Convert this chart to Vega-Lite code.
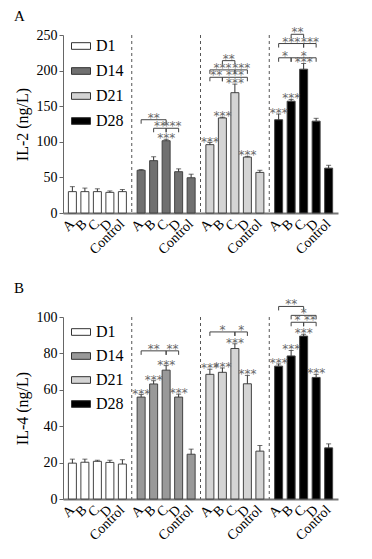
{
  "$schema": "https://vega.github.io/schema/vega-lite/v6.json",
  "padding": {"left": 14, "top": 9, "right": 4, "bottom": 4},
  "background": "white",
  "config": {
    "view": {"stroke": null},
    "font": "Liberation Serif",
    "axis": {"grid": false, "labelFont": "Liberation Serif", "titleFont": "Liberation Serif", "labelColor": "#000", "titleColor": "#000"},
    "axisY": {"labelFontSize": 14, "titleFontSize": 16, "titleFontWeight": "normal", "domainColor": "#666", "tickColor": "#666", "tickSize": 4, "labelPadding": 2, "titlePadding": 6},
    "title": {"font": "Liberation Serif", "fontWeight": "normal", "fontSize": 15, "color": "#000", "anchor": "start", "frame": "bounds"}
  },
  "datasets": {
    "bars": [
      {"panel": "A", "day": "D1", "sample": "A", "value": 30, "upper": 37, "sig": ""},
      {"panel": "A", "day": "D1", "sample": "B", "value": 30, "upper": 35, "sig": ""},
      {"panel": "A", "day": "D1", "sample": "C", "value": 30, "upper": 34, "sig": ""},
      {"panel": "A", "day": "D1", "sample": "D", "value": 29, "upper": 31, "sig": ""},
      {"panel": "A", "day": "D1", "sample": "Control", "value": 30, "upper": 33, "sig": ""},
      {"panel": "A", "day": "D14", "sample": "A", "value": 60, "upper": 61, "sig": ""},
      {"panel": "A", "day": "D14", "sample": "B", "value": 73.5, "upper": 79, "sig": ""},
      {"panel": "A", "day": "D14", "sample": "C", "value": 101.5, "upper": 103.5, "sig": "***"},
      {"panel": "A", "day": "D14", "sample": "D", "value": 58, "upper": 62, "sig": ""},
      {"panel": "A", "day": "D14", "sample": "Control", "value": 49.5, "upper": 54.5, "sig": ""},
      {"panel": "A", "day": "D21", "sample": "A", "value": 96, "upper": 99, "sig": "***"},
      {"panel": "A", "day": "D21", "sample": "B", "value": 133.5, "upper": 134.5, "sig": "***"},
      {"panel": "A", "day": "D21", "sample": "C", "value": 169, "upper": 181, "sig": "***"},
      {"panel": "A", "day": "D21", "sample": "D", "value": 78.5, "upper": 79.5, "sig": "***"},
      {"panel": "A", "day": "D21", "sample": "Control", "value": 57, "upper": 60, "sig": ""},
      {"panel": "A", "day": "D28", "sample": "A", "value": 131, "upper": 139, "sig": "***"},
      {"panel": "A", "day": "D28", "sample": "B", "value": 157, "upper": 159.5, "sig": "***"},
      {"panel": "A", "day": "D28", "sample": "C", "value": 202, "upper": 210, "sig": "***"},
      {"panel": "A", "day": "D28", "sample": "D", "value": 129, "upper": 133, "sig": ""},
      {"panel": "A", "day": "D28", "sample": "Control", "value": 63, "upper": 67, "sig": ""},
      {"panel": "B", "day": "D1", "sample": "A", "value": 19.7, "upper": 21.9, "sig": ""},
      {"panel": "B", "day": "D1", "sample": "B", "value": 20.2, "upper": 21.9, "sig": ""},
      {"panel": "B", "day": "D1", "sample": "C", "value": 20.7, "upper": 21.3, "sig": ""},
      {"panel": "B", "day": "D1", "sample": "D", "value": 20.1, "upper": 21.3, "sig": ""},
      {"panel": "B", "day": "D1", "sample": "Control", "value": 19.2, "upper": 21.6, "sig": ""},
      {"panel": "B", "day": "D14", "sample": "A", "value": 56, "upper": 57.4, "sig": "***"},
      {"panel": "B", "day": "D14", "sample": "B", "value": 63.2, "upper": 65, "sig": "***"},
      {"panel": "B", "day": "D14", "sample": "C", "value": 70.8, "upper": 73.3, "sig": "***"},
      {"panel": "B", "day": "D14", "sample": "D", "value": 56, "upper": 57.6, "sig": "***"},
      {"panel": "B", "day": "D14", "sample": "Control", "value": 24.6, "upper": 27.4, "sig": ""},
      {"panel": "B", "day": "D21", "sample": "A", "value": 68.5, "upper": 71.3, "sig": "***"},
      {"panel": "B", "day": "D21", "sample": "B", "value": 69.6, "upper": 72, "sig": "***"},
      {"panel": "B", "day": "D21", "sample": "C", "value": 82.7, "upper": 85.3, "sig": "***"},
      {"panel": "B", "day": "D21", "sample": "D", "value": 63.3, "upper": 67.9, "sig": "***"},
      {"panel": "B", "day": "D21", "sample": "Control", "value": 26.3, "upper": 29.4, "sig": ""},
      {"panel": "B", "day": "D28", "sample": "A", "value": 73, "upper": 74.2, "sig": "***"},
      {"panel": "B", "day": "D28", "sample": "B", "value": 78.6, "upper": 81.6, "sig": "***"},
      {"panel": "B", "day": "D28", "sample": "C", "value": 89.5, "upper": 90.5, "sig": "***"},
      {"panel": "B", "day": "D28", "sample": "D", "value": 66.8, "upper": 68.5, "sig": "***"},
      {"panel": "B", "day": "D28", "sample": "Control", "value": 28.1, "upper": 30.3, "sig": ""}
    ],
    "brackets": [
      {"panel": "A", "day": "D14", "id": "a1", "from": "A", "to": "C", "mid": "B", "level": 131, "label": "**"},
      {"panel": "A", "day": "D14", "id": "a2", "from": "B", "to": "C", "mid": "B|C", "level": 119, "label": "**"},
      {"panel": "A", "day": "D14", "id": "a3", "from": "C", "to": "D", "mid": "C|D", "level": 119, "label": "***"},
      {"panel": "A", "day": "D21", "id": "a4", "from": "A", "to": "B", "mid": "A|B", "level": 190.6, "label": "**"},
      {"panel": "A", "day": "D21", "id": "a5", "from": "B", "to": "D", "mid": "C", "level": 190.6, "label": "***"},
      {"panel": "A", "day": "D21", "id": "a6", "from": "A", "to": "C", "mid": "B", "level": 201, "label": "***"},
      {"panel": "A", "day": "D21", "id": "a7", "from": "C", "to": "D", "mid": "C|D", "level": 201, "label": "***"},
      {"panel": "A", "day": "D21", "id": "a8", "from": "B", "to": "C", "mid": "B|C", "level": 214, "label": "**"},
      {"panel": "A", "day": "D28", "id": "a9", "from": "A", "to": "B", "mid": "A|B", "level": 218, "label": "*"},
      {"panel": "A", "day": "D28", "id": "a10", "from": "B", "to": "D", "mid": "C", "level": 218, "label": "*"},
      {"panel": "A", "day": "D28", "id": "a11", "from": "A", "to": "C", "mid": "B", "level": 238, "label": "***"},
      {"panel": "A", "day": "D28", "id": "a12", "from": "C", "to": "D", "mid": "C|D", "level": 238, "label": "***"},
      {"panel": "A", "day": "D28", "id": "a13", "from": "B", "to": "C", "mid": "B|C", "level": 251, "label": "**"},
      {"panel": "B", "day": "D14", "id": "b1", "from": "A", "to": "C", "mid": "B", "level": 81.4, "label": "**"},
      {"panel": "B", "day": "D14", "id": "b2", "from": "C", "to": "D", "mid": "C|D", "level": 81.4, "label": "**"},
      {"panel": "B", "day": "D21", "id": "b3", "from": "A", "to": "C", "mid": "B", "level": 91.8, "label": "*"},
      {"panel": "B", "day": "D21", "id": "b4", "from": "C", "to": "D", "mid": "C|D", "level": 91.8, "label": "*"},
      {"panel": "B", "day": "D28", "id": "b5", "from": "B", "to": "C", "mid": "B|C", "level": 97.1, "label": "*"},
      {"panel": "B", "day": "D28", "id": "b6", "from": "C", "to": "D", "mid": "C|D", "level": 97.1, "label": "**"},
      {"panel": "B", "day": "D28", "id": "b7", "from": "B", "to": "D", "mid": "C", "level": 100.9, "label": "*"},
      {"panel": "B", "day": "D28", "id": "b8", "from": "A", "to": "C", "mid": "B", "level": 105.8, "label": "**"}
    ]
  },
  "resolve": {"scale": {"x": "independent", "y": "independent", "xOffset": "independent", "fill": "independent"}, "legend": {"fill": "independent"}},
  "spacing": 23,
  "vconcat": [
    {
      "width": 275, "height": 178,
      "title": {"text": "A", "offset": 2},
      "resolve": {"axis": {"y": "independent", "x": "independent"}},
      "encoding": {
        "x": {"field": "day", "type": "nominal", "scale": {"domain": ["D1", "D14", "D21", "D28"], "paddingInner": 0, "paddingOuter": 0}, "axis": null}
      },
      "layer": [
        {
          "data": {"name": "bars"},
          "transform": [{"filter": "datum.panel === 'A' && datum.sample === 'A' && datum.day !== 'D1'"}],
          "mark": {"type": "rule", "strokeDash": [3, 3], "color": "#555", "strokeWidth": 1},
          "encoding": {"x": {"field": "day", "type": "nominal", "bandPosition": 0, "axis": null}}
        },
        {
          "data": {"name": "bars"},
          "transform": [{"filter": "datum.panel === 'A'"}],
          "mark": {"type": "bar", "width": 8, "stroke": "#444", "strokeWidth": 1},
          "encoding": {
            "x": {"field": "day", "type": "nominal", "axis": {"labels": false, "ticks": false, "title": null, "domainColor": "#777", "domainWidth": 2}},
            "xOffset": {"field": "sample", "type": "nominal", "scale": {"domain": ["A", "A|B", "B", "B|C", "C", "C|D", "D", "D|Control", "Control"], "paddingInner": 0, "paddingOuter": 1.68}},
            "y": {"field": "value", "type": "quantitative", "scale": {"domain": [0, 250], "nice": false},
                  "axis": {"values": [0, 50, 100, 150, 200, 250], "labelOverlap": false, "title": "IL-2 (ng/L)"}},
            "fill": {"field": "day", "type": "nominal", "scale": {"domain": ["D1", "D14", "D21", "D28"], "range": ["#ffffff", "#707070", "#d4d4d4", "#000000"]},
                     "legend": {"title": null, "orient": "none", "legendX": 8, "legendY": 1, "padding": 0, "symbolType": "M-1,-0.35H1V0.35H-1Z", "symbolSize": 361, "symbolStrokeColor": "#333", "symbolStrokeWidth": 1, "labelFont": "Liberation Serif", "labelFontSize": 16, "labelColor": "#000", "rowPadding": 7, "labelOffset": 5}}
          }
        },
        {
          "data": {"name": "bars"},
          "transform": [{"filter": "datum.panel === 'A'"}],
          "mark": {"type": "rule", "color": "#333", "strokeWidth": 1},
          "encoding": {"xOffset": {"field": "sample", "type": "nominal"}, "y": {"field": "value", "type": "quantitative", "axis": null}, "y2": {"field": "upper"}}
        },
        {
          "data": {"name": "bars"},
          "transform": [{"filter": "datum.panel === 'A'"}],
          "mark": {"type": "tick", "color": "#333", "size": 5, "thickness": 1},
          "encoding": {"xOffset": {"field": "sample", "type": "nominal"}, "y": {"field": "upper", "type": "quantitative", "axis": null}}
        },
        {
          "data": {"name": "bars"},
          "transform": [{"filter": "datum.panel === 'A'"}],
          "mark": {"type": "text", "font": "DejaVu Sans", "fontSize": 12, "color": "#666", "opacity": 0.99, "baseline": "alphabetic", "dy": 3},
          "encoding": {"xOffset": {"field": "sample", "type": "nominal"}, "y": {"field": "upper", "type": "quantitative", "axis": null}, "text": {"field": "sig"}}
        },
        {
          "data": {"name": "bars"},
          "transform": [{"filter": "datum.panel === 'A'"}],
          "mark": {"type": "text", "font": "Liberation Serif", "fontSize": 14, "color": "#000", "angle": -45, "align": "right", "baseline": "middle", "yOffset": 9},
          "encoding": {"xOffset": {"field": "sample", "type": "nominal"}, "y": {"datum": 0, "type": "quantitative", "axis": null}, "text": {"field": "sample"}}
        },
        {
          "data": {"name": "brackets"},
          "transform": [{"filter": "datum.panel === 'A'"}, {"fold": ["from", "to"], "as": ["end", "pos"]}],
          "mark": {"type": "line", "color": "#444", "strokeWidth": 1},
          "encoding": {"xOffset": {"field": "pos", "type": "nominal"}, "y": {"field": "level", "type": "quantitative", "axis": null}, "detail": {"field": "id"}}
        },
        {
          "data": {"name": "brackets"},
          "transform": [{"filter": "datum.panel === 'A'"}, {"fold": ["from", "to"], "as": ["end", "pos"]}],
          "mark": {"type": "rule", "color": "#444", "strokeWidth": 1, "y2Offset": 4},
          "encoding": {"xOffset": {"field": "pos", "type": "nominal"}, "y": {"field": "level", "type": "quantitative", "axis": null}, "y2": {"field": "level"}}
        },
        {
          "data": {"name": "brackets"},
          "transform": [{"filter": "datum.panel === 'A'"}],
          "mark": {"type": "text", "font": "DejaVu Sans", "fontSize": 12, "color": "#666", "opacity": 0.99, "baseline": "alphabetic", "dy": 2},
          "encoding": {"xOffset": {"field": "mid", "type": "nominal"}, "y": {"field": "level", "type": "quantitative", "axis": null}, "text": {"field": "label"}}
        }
      ]
    },
    {
      "width": 275, "height": 182,
      "title": {"text": "B", "offset": 2},
      "resolve": {"axis": {"y": "independent", "x": "independent"}},
      "encoding": {
        "x": {"field": "day", "type": "nominal", "scale": {"domain": ["D1", "D14", "D21", "D28"], "paddingInner": 0, "paddingOuter": 0}, "axis": null}
      },
      "layer": [
        {
          "data": {"name": "bars"},
          "transform": [{"filter": "datum.panel === 'B' && datum.sample === 'A' && datum.day !== 'D1'"}],
          "mark": {"type": "rule", "strokeDash": [3, 3], "color": "#555", "strokeWidth": 1},
          "encoding": {"x": {"field": "day", "type": "nominal", "bandPosition": 0, "axis": null}}
        },
        {
          "data": {"name": "bars"},
          "transform": [{"filter": "datum.panel === 'B'"}],
          "mark": {"type": "bar", "width": 8, "stroke": "#444", "strokeWidth": 1},
          "encoding": {
            "x": {"field": "day", "type": "nominal", "axis": {"labels": false, "ticks": false, "title": null, "domainColor": "#777", "domainWidth": 2}},
            "xOffset": {"field": "sample", "type": "nominal", "scale": {"domain": ["A", "A|B", "B", "B|C", "C", "C|D", "D", "D|Control", "Control"], "paddingInner": 0, "paddingOuter": 1.68}},
            "y": {"field": "value", "type": "quantitative", "scale": {"domain": [0, 100], "nice": false},
                  "axis": {"values": [0, 20, 40, 60, 80, 100], "labelOverlap": false, "title": "IL-4 (ng/L)"}},
            "fill": {"field": "day", "type": "nominal", "scale": {"domain": ["D1", "D14", "D21", "D28"], "range": ["#ffffff", "#999999", "#d4d4d4", "#000000"]},
                     "legend": {"title": null, "orient": "none", "legendX": 8, "legendY": 5, "padding": 0, "symbolType": "M-1,-0.35H1V0.35H-1Z", "symbolSize": 361, "symbolStrokeColor": "#333", "symbolStrokeWidth": 1, "labelFont": "Liberation Serif", "labelFontSize": 16, "labelColor": "#000", "rowPadding": 6, "labelOffset": 5}}
          }
        },
        {
          "data": {"name": "bars"},
          "transform": [{"filter": "datum.panel === 'B'"}],
          "mark": {"type": "rule", "color": "#333", "strokeWidth": 1},
          "encoding": {"xOffset": {"field": "sample", "type": "nominal"}, "y": {"field": "value", "type": "quantitative", "axis": null}, "y2": {"field": "upper"}}
        },
        {
          "data": {"name": "bars"},
          "transform": [{"filter": "datum.panel === 'B'"}],
          "mark": {"type": "tick", "color": "#333", "size": 5, "thickness": 1},
          "encoding": {"xOffset": {"field": "sample", "type": "nominal"}, "y": {"field": "upper", "type": "quantitative", "axis": null}}
        },
        {
          "data": {"name": "bars"},
          "transform": [{"filter": "datum.panel === 'B'"}],
          "mark": {"type": "text", "font": "DejaVu Sans", "fontSize": 12, "color": "#666", "opacity": 0.99, "baseline": "alphabetic", "dy": 3},
          "encoding": {"xOffset": {"field": "sample", "type": "nominal"}, "y": {"field": "upper", "type": "quantitative", "axis": null}, "text": {"field": "sig"}}
        },
        {
          "data": {"name": "bars"},
          "transform": [{"filter": "datum.panel === 'B'"}],
          "mark": {"type": "text", "font": "Liberation Serif", "fontSize": 14, "color": "#000", "angle": -45, "align": "right", "baseline": "middle", "yOffset": 9},
          "encoding": {"xOffset": {"field": "sample", "type": "nominal"}, "y": {"datum": 0, "type": "quantitative", "axis": null}, "text": {"field": "sample"}}
        },
        {
          "data": {"name": "brackets"},
          "transform": [{"filter": "datum.panel === 'B'"}, {"fold": ["from", "to"], "as": ["end", "pos"]}],
          "mark": {"type": "line", "color": "#444", "strokeWidth": 1},
          "encoding": {"xOffset": {"field": "pos", "type": "nominal"}, "y": {"field": "level", "type": "quantitative", "axis": null}, "detail": {"field": "id"}}
        },
        {
          "data": {"name": "brackets"},
          "transform": [{"filter": "datum.panel === 'B'"}, {"fold": ["from", "to"], "as": ["end", "pos"]}],
          "mark": {"type": "rule", "color": "#444", "strokeWidth": 1, "y2Offset": 4},
          "encoding": {"xOffset": {"field": "pos", "type": "nominal"}, "y": {"field": "level", "type": "quantitative", "axis": null}, "y2": {"field": "level"}}
        },
        {
          "data": {"name": "brackets"},
          "transform": [{"filter": "datum.panel === 'B'"}],
          "mark": {"type": "text", "font": "DejaVu Sans", "fontSize": 12, "color": "#666", "opacity": 0.99, "baseline": "alphabetic", "dy": 2},
          "encoding": {"xOffset": {"field": "mid", "type": "nominal"}, "y": {"field": "level", "type": "quantitative", "axis": null}, "text": {"field": "label"}}
        }
      ]
    }
  ]
}
